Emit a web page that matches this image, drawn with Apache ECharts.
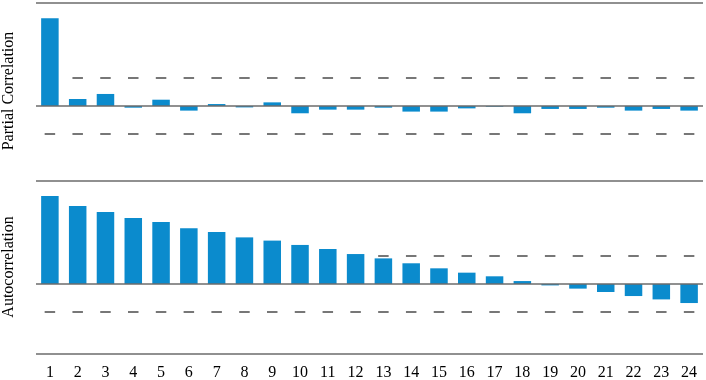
<!DOCTYPE html>
<html>
<head>
<meta charset="utf-8">
<script src="https://cdn.jsdelivr.net/npm/echarts@6/dist/echarts.min.js"></script>
<style>html,body{margin:0;padding:0;background:#fff}#c{width:706px;height:380px}</style>
</head>
<body>
<div id="c"></div>
<script>
const lags = ['1','2','3','4','5','6','7','8','9','10','11','12','13','14','15','16','17','18','19','20','21','22','23','24'];
const pacf = [0.626,0.050,0.086,-0.012,0.045,-0.033,0.014,-0.010,0.026,-0.052,-0.026,-0.026,-0.012,-0.040,-0.040,-0.017,-0.005,-0.052,-0.021,-0.021,-0.012,-0.033,-0.021,-0.033];
const acf = [0.629,0.557,0.514,0.471,0.443,0.398,0.371,0.333,0.310,0.279,0.250,0.214,0.183,0.148,0.112,0.081,0.055,0.021,-0.010,-0.033,-0.057,-0.086,-0.110,-0.136];
const confBound = 0.2;
const pacfRange = [-0.5286, 0.7429];
const acfRange = [-0.5, 0.7429];

const BLUE = '#0b8bcd';
const LINE = '#6b6b6b';
const DASH = '#555555';
const FONT = '"Liberation Serif", "Times New Roman", serif';

const upper = lags.map(() => confBound);
const lower = lags.map(() => -confBound);

function frameLines(range) {
  return {
    silent: true,
    symbol: ['none', 'none'],
    label: {show: false},
    lineStyle: {color: LINE, width: 1.5, type: 'solid'},
    data: [{yAxis: range[0]}, {yAxis: 0}, {yAxis: range[1]}]
  };
}

const chart = echarts.init(document.getElementById('c'), null, {renderer: 'canvas'});
chart.setOption({
  animation: false,
  backgroundColor: '#fff',
  grid: [
    {left: 36, right: 3, top: 2, height: 178, containLabel: false, outerBoundsMode: 'none'},
    {left: 36, right: 3, top: 180, height: 174, containLabel: false, outerBoundsMode: 'none'}
  ],
  xAxis: [
    {type: 'category', gridIndex: 0, data: lags, axisLine: {show: false}, axisTick: {show: false}, axisLabel: {show: false}},
    {type: 'category', gridIndex: 1, data: lags, axisLine: {show: false}, axisTick: {show: false},
      axisLabel: {show: true, color: '#000', fontFamily: FONT, fontSize: 16, margin: 11}}
  ],
  yAxis: [
    {type: 'value', gridIndex: 0, min: pacfRange[0], max: pacfRange[1], axisLine: {show: false}, axisTick: {show: false},
      axisLabel: {show: false}, splitLine: {show: false},
      name: 'Partial Correlation', nameLocation: 'middle', nameRotate: 90, nameGap: 19,
      nameTextStyle: {color: '#000', fontFamily: FONT, fontSize: 16}},
    {type: 'value', gridIndex: 1, min: acfRange[0], max: acfRange[1], axisLine: {show: false}, axisTick: {show: false},
      axisLabel: {show: false}, splitLine: {show: false},
      name: 'Autocorrelation', nameLocation: 'middle', nameRotate: 90, nameGap: 19,
      nameTextStyle: {color: '#000', fontFamily: FONT, fontSize: 16}}
  ],
  series: [
    {type: 'bar', xAxisIndex: 0, yAxisIndex: 0, data: pacf, barWidth: '63%', itemStyle: {color: BLUE}, markLine: frameLines(pacfRange), z: 3},
    {type: 'scatter', xAxisIndex: 0, yAxisIndex: 0, data: upper, symbol: 'rect', symbolSize: [10.5, 2], itemStyle: {color: DASH}, silent: true, z: 1},
    {type: 'scatter', xAxisIndex: 0, yAxisIndex: 0, data: lower, symbol: 'rect', symbolSize: [10.5, 2], itemStyle: {color: DASH}, silent: true, z: 1},
    {type: 'bar', xAxisIndex: 1, yAxisIndex: 1, data: acf, barWidth: '63%', itemStyle: {color: BLUE}, markLine: frameLines(acfRange), z: 3},
    {type: 'scatter', xAxisIndex: 1, yAxisIndex: 1, data: upper, symbol: 'rect', symbolSize: [10.5, 2], itemStyle: {color: DASH}, silent: true, z: 1},
    {type: 'scatter', xAxisIndex: 1, yAxisIndex: 1, data: lower, symbol: 'rect', symbolSize: [10.5, 2], itemStyle: {color: DASH}, silent: true, z: 1}
  ]
});
</script>
</body>
</html>
